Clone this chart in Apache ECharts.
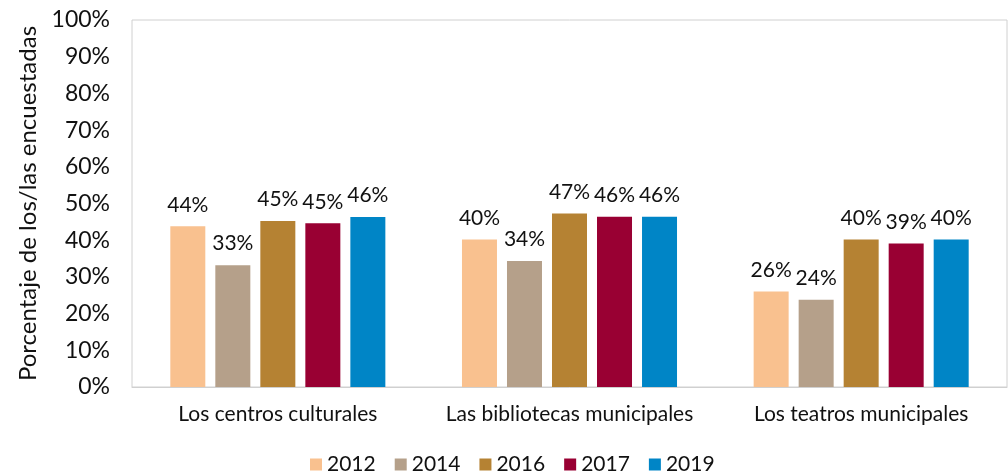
<!DOCTYPE html>
<html>
<head>
<meta charset="utf-8">
<script src="https://cdn.jsdelivr.net/npm/echarts@6/dist/echarts.min.js"></script>
<style>
  html, body { margin: 0; padding: 0; background: #fff; }
  #chart { width: 1008px; height: 473px; }
</style>
</head>
<body>
<div id="chart"></div>
<script>
  const categories = ['Los centros culturales', 'Las bibliotecas municipales', 'Los teatros municipales'];
  const years = ['2012', '2014', '2016', '2017', '2019'];
  const v2012 = [43.8, 40.2, 26.0];
  const v2014 = [33.2, 34.3, 23.8];
  const v2016 = [45.2, 47.3, 40.2];
  const v2017 = [44.6, 46.4, 39.1];
  const v2019 = [46.3, 46.4, 40.2];
  const yTicks = [0, 10, 20, 30, 40, 50, 60, 70, 80, 90, 100];
  const colors = ['#F9C18F', '#B5A08A', '#B58233', '#990033', '#0085C6'];

  const font = 'Lato, "Noto Sans", sans-serif';
  const values = [v2012, v2014, v2016, v2017, v2019];

  const chart = echarts.init(document.getElementById('chart'));
  const options = {
    animation: false,
    textStyle: { fontFamily: font },
    grid: {
      left: 132,
      right: 1,
      top: 20,
      bottom: 86,
      show: true,
      borderColor: '#D0D0D0',
      borderWidth: 1
    },
    legend: {
      bottom: -7,
      left: 305,
      itemWidth: 12,
      itemHeight: 12,
      itemGap: 19,
      icon: 'rect',
      textStyle: { fontSize: 21, color: '#111', fontFamily: font }
    },
    xAxis: {
      type: 'category',
      data: categories,
      axisLine: { lineStyle: { color: '#D0D0D0' } },
      axisTick: { show: false },
      axisLabel: { interval: 0, fontSize: 21, color: '#111', margin: 17, fontFamily: font }
    },
    yAxis: {
      type: 'value',
      min: yTicks[0],
      max: yTicks[yTicks.length - 1],
      interval: 10,
      name: 'Porcentaje de los/las encuestadas',
      nameLocation: 'middle',
      nameGap: 84,
      nameTextStyle: { fontSize: 24, color: '#111', fontFamily: font },
      splitLine: { show: false },
      axisLine: { show: false },
      axisTick: { show: false },
      axisLabel: {
        fontSize: 23,
        color: '#111',
        margin: 22,
        fontFamily: font,
        formatter: '{value}%'
      }
    },
    series: years.map((y, i) => ({
      name: y,
      type: 'bar',
      data: values[i],
      barWidth: 35,
      barGap: '28.6%',
      itemStyle: { color: colors[i] },
      label: {
        show: true,
        position: 'top',
        distance: 11,
        fontSize: 21,
        color: '#111',
        fontFamily: font,
        formatter: (p) => Math.round(p.value) + '%'
      }
    }))
  };
  chart.setOption(options);
</script>
</body>
</html>
